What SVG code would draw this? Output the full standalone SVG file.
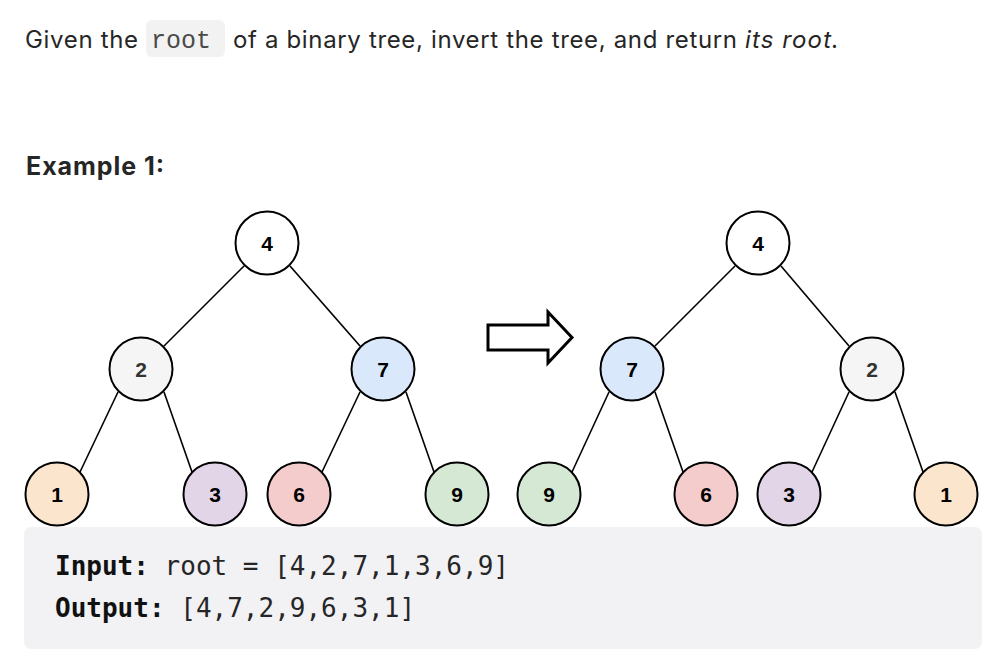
<svg xmlns="http://www.w3.org/2000/svg" width="1008" height="662" viewBox="0 0 1008 662">
<style>
.body{font-family:Inter,"Noto Sans",sans-serif;font-size:24px;fill:#262626}
.h{font-family:Inter,"Noto Sans",sans-serif;font-size:25px;font-weight:700;fill:#262626}
.chip{font-family:"Liberation Mono",monospace;font-size:25px;fill:#4a4a4a}
.mono{font-family:"DejaVu Sans Mono",monospace;font-size:26px;fill:#262626}
.n circle{stroke:#000;stroke-width:2}
.n text{font-family:"Liberation Sans",Arial,sans-serif;font-size:21px;font-weight:700;text-anchor:middle;fill:#000}
.e line{stroke:#000;stroke-width:1.6}
</style>
<rect width="1008" height="662" fill="#fff"/>
<rect x="146" y="20" width="79" height="37" rx="6" fill="#f2f2f3"/>
<text class="body" x="25" y="48" textLength="113" lengthAdjust="spacing">Given the</text>
<text class="chip" x="151" y="48">root</text>
<text class="body" x="233" y="48" textLength="504" lengthAdjust="spacing">of a binary tree, invert the tree, and return</text>
<text class="body" x="745" y="48" font-style="italic" textLength="86" lengthAdjust="spacing">its root</text>
<text class="body" x="831" y="48">.</text>
<text class="h" x="26" y="175" textLength="138" lengthAdjust="spacing">Example 1:</text>
<g id="connectors" class="e">
<line x1="244" y1="266" x2="164" y2="346"/>
<line x1="290" y1="266" x2="360" y2="346"/>
<line x1="118" y1="392" x2="80" y2="472"/>
<line x1="164" y1="392" x2="192" y2="472"/>
<line x1="360" y1="392" x2="322" y2="472"/>
<line x1="406" y1="392" x2="434" y2="472"/>
<line x1="735" y1="266" x2="655" y2="346"/>
<line x1="781" y1="266" x2="849" y2="346"/>
<line x1="609" y1="392" x2="572" y2="472"/>
<line x1="655" y1="392" x2="683" y2="472"/>
<line x1="849" y1="392" x2="812" y2="472"/>
<line x1="895" y1="392" x2="923" y2="472"/>
</g>
<g id="L4" class="n"><circle cx="267" cy="243" r="31.5" fill="#fff"/><text x="267" y="251">4</text></g>
<g id="L2" class="n"><circle cx="141" cy="369" r="31.5" fill="#f5f5f5"/><text x="141" y="377" style="fill:#333">2</text></g>
<g id="L7" class="n"><circle cx="383" cy="369" r="31.5" fill="#dae8fc"/><text x="383" y="377">7</text></g>
<g id="L1" class="n"><circle cx="57" cy="494" r="31.5" fill="#fce5cd"/><text x="57" y="502">1</text></g>
<g id="L3" class="n"><circle cx="215" cy="494" r="31.5" fill="#e1d5e7"/><text x="215" y="502">3</text></g>
<g id="L6" class="n"><circle cx="299" cy="494" r="31.5" fill="#f4cccc"/><text x="299" y="502">6</text></g>
<g id="L9" class="n"><circle cx="457" cy="494" r="31.5" fill="#d5e8d4"/><text x="457" y="502">9</text></g>
<g id="arrow"><path d="M488 325 H548 V312 L572 337.5 L548 363 V350 H488 Z" fill="#fff" stroke="#000" stroke-width="3" stroke-linejoin="miter"/></g>
<g id="R4" class="n"><circle cx="758" cy="243" r="31.5" fill="#fff"/><text x="758" y="251">4</text></g>
<g id="R7" class="n"><circle cx="632" cy="369" r="31.5" fill="#dae8fc"/><text x="632" y="377">7</text></g>
<g id="R2" class="n"><circle cx="872" cy="369" r="31.5" fill="#f5f5f5"/><text x="872" y="377" style="fill:#333">2</text></g>
<g id="R9" class="n"><circle cx="549" cy="494" r="31.5" fill="#d5e8d4"/><text x="549" y="502">9</text></g>
<g id="R6" class="n"><circle cx="706" cy="494" r="31.5" fill="#f4cccc"/><text x="706" y="502">6</text></g>
<g id="R3" class="n"><circle cx="789" cy="494" r="31.5" fill="#e1d5e7"/><text x="789" y="502">3</text></g>
<g id="R1" class="n"><circle cx="946" cy="494" r="31.5" fill="#fce5cd"/><text x="946" y="502">1</text></g>
<rect x="24" y="527" width="958" height="122" rx="7" fill="#f2f2f4"/>
<text class="mono" x="55" y="575"><tspan font-weight="700" fill="#111">Input:</tspan> root = [4,2,7,1,3,6,9]</text>
<text class="mono" x="55" y="617"><tspan font-weight="700" fill="#111">Output:</tspan> [4,7,2,9,6,3,1]</text>
</svg>
